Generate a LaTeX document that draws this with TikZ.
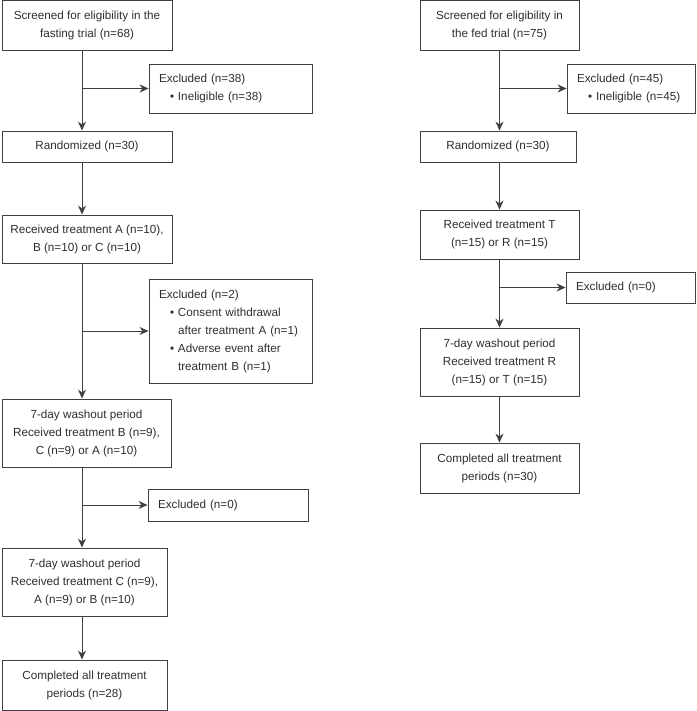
\documentclass[tikz,border=0pt]{standalone}
\usepackage{fontspec}
\setmainfont{Liberation Sans}
\usetikzlibrary{arrows.meta}
\definecolor{linegray}{HTML}{404040}
\definecolor{textgray}{HTML}{2E2E2E}
\newcommand{\exitem}[1]{\par\noindent\hangindent=19pt\hspace*{11pt}\makebox[8pt][l]{\textbullet}#1\par}
\tikzstyle{box}=[draw=linegray, line width=0.9pt, inner sep=0, text=textgray, align=center]
\tikzstyle{exbox}=[box, align=left, inner xsep=10pt]
\tikzstyle{flow}=[draw=linegray, line width=0.9pt, -{Stealth[length=9pt, width=8pt]}]
\tikzstyle{flowchart}=[x=1pt, y=-1pt,
                       % One font for every box.
                       every node/.style={font=\fontsize{11.7}{18}\selectfont}]

\begin{document}
\begin{tikzpicture}[flowchart]
        \useasboundingbox (0, 0) rectangle (696, 711);
        % Fasting trial.
        \coordinate (spinefast) at (82, 0);
        \node[box, minimum width=170pt, minimum height=49.5pt] (Sfast) at (87, 25.25) {Screened for eligibility in the\\fasting trial (n=68)};
        \node[exbox, text width=143pt, minimum height=49pt] (Efast1) at (230.5, 88.5) {Excluded (n=38)\exitem{Ineligible (n=38)}};
        \node[box, minimum width=170pt, minimum height=31pt] (Rfast) at (87, 146.5) {Randomized (n=30)};
        \node[box, minimum width=170pt, minimum height=48pt] (Tfast) at (87, 239) {Received treatment A (n=10),\\B (n=10) or C (n=10)};
        \node[exbox, text width=143pt, minimum height=104pt] (Efast2) at (230.5, 331) {Excluded (n=2)\exitem{Consent withdrawal\newline after treatment A (n=1)}\exitem{Adverse event after\newline treatment B (n=1)}};
        \node[box, minimum width=169pt, minimum height=68pt] (Wfast1) at (86.5, 433) {7-day washout period\\Received treatment B (n=9),\\C (n=9) or A (n=10)};
        \node[exbox, text width=140pt, minimum height=32pt] (Efast3) at (228, 505) {Excluded (n=0)};
        \node[box, minimum width=165pt, minimum height=68pt] (Wfast2) at (84.5, 582) {7-day washout period\\Received treatment C (n=9),\\A (n=9) or B (n=10)};
        \node[box, minimum width=165pt, minimum height=50pt] (Cfast) at (84.5, 685) {Completed all treatment\\periods (n=28)};
        \draw[flow] (Sfast.south -| spinefast) -- (Rfast.north -| spinefast);
        \draw[flow] (Efast1.west -| spinefast) -- (Efast1.west);
        \draw[flow] (Rfast.south -| spinefast) -- (Tfast.north -| spinefast);
        \draw[flow] (Tfast.south -| spinefast) -- (Wfast1.north -| spinefast);
        \draw[flow] (Efast2.west -| spinefast) -- (Efast2.west);
        \draw[flow] (Wfast1.south -| spinefast) -- (Wfast2.north -| spinefast);
        \draw[flow] (Efast3.west -| spinefast) -- (Efast3.west);
        \draw[flow] (Wfast2.south -| spinefast) -- (Cfast.north -| spinefast);
        % Fed trial.
        \coordinate (spinefed) at (499.5, 0);
        \node[box, minimum width=159pt, minimum height=49.5pt] (Sfed) at (499.5, 25.25) {Screened for eligibility in\\the fed trial (n=75)};
        \node[exbox, text width=108pt, minimum height=49pt] (Efed1) at (631, 88.5) {Excluded (n=45)\exitem{Ineligible (n=45)}};
        \node[box, minimum width=156pt, minimum height=31pt] (Rfed) at (498, 146.5) {Randomized (n=30)};
        \node[box, minimum width=159pt, minimum height=49pt] (Tfed) at (499.5, 234.5) {Received treatment T\\(n=15) or R (n=15)};
        \node[exbox, text width=109pt, minimum height=31pt] (Efed2) at (630.5, 287.5) {Excluded (n=0)};
        \node[box, minimum width=159pt, minimum height=68pt] (Wfed) at (499.5, 362) {7-day washout period\\Received treatment R\\(n=15) or T (n=15)};
        \node[box, minimum width=159pt, minimum height=50pt] (Cfed) at (499.5, 468) {Completed all treatment\\periods (n=30)};
        \draw[flow] (Sfed.south -| spinefed) -- (Rfed.north -| spinefed);
        \draw[flow] (Efed1.west -| spinefed) -- (Efed1.west);
        \draw[flow] (Rfed.south -| spinefed) -- (Tfed.north -| spinefed);
        \draw[flow] (Tfed.south -| spinefed) -- (Wfed.north -| spinefed);
        \draw[flow] (Efed2.west -| spinefed) -- (Efed2.west);
        \draw[flow] (Wfed.south -| spinefed) -- (Cfed.north -| spinefed);
    \end{tikzpicture}
\end{document}
